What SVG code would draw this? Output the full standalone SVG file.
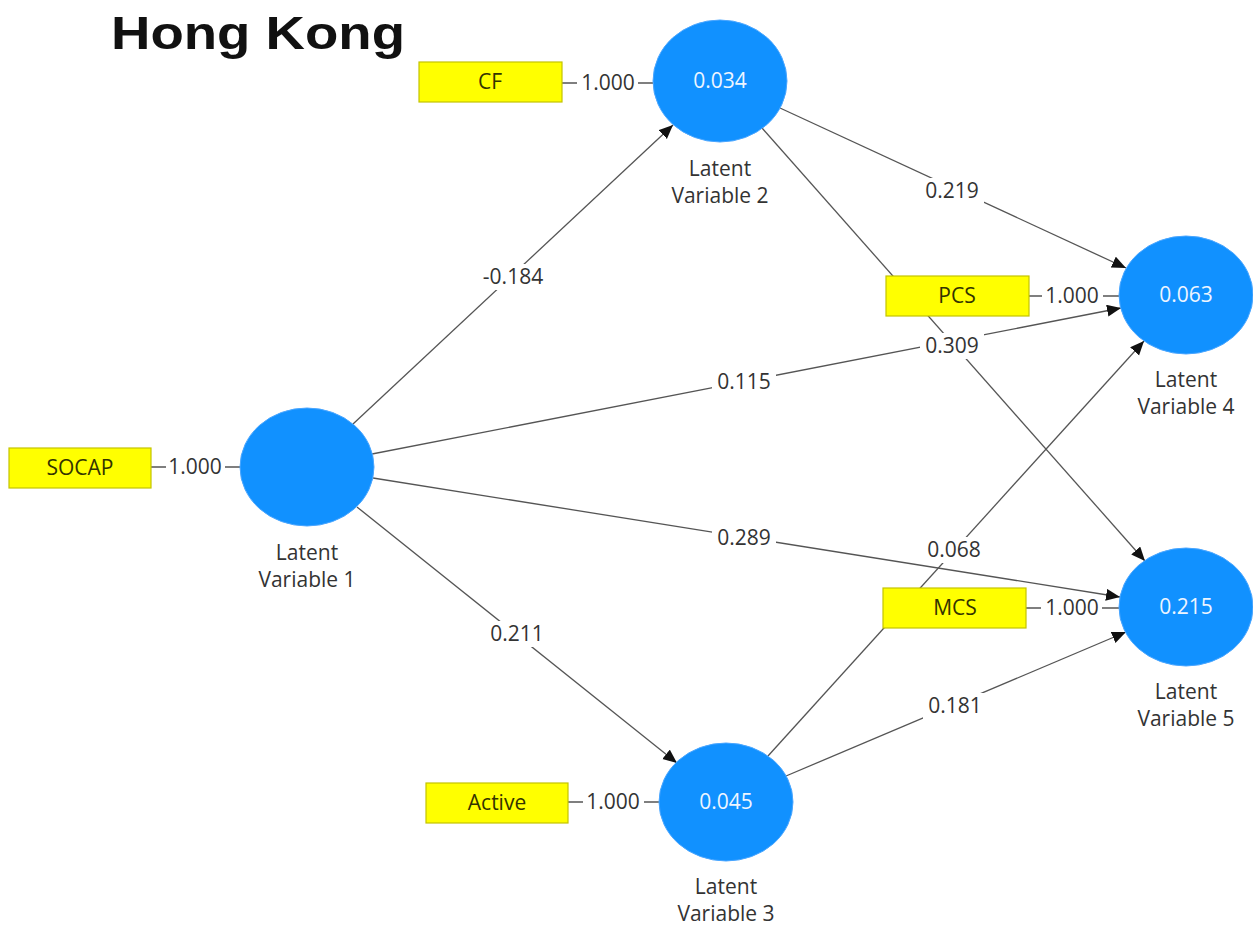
<svg xmlns="http://www.w3.org/2000/svg" width="1253" height="926" viewBox="0 0 1253 926">
<style>
.lv{fill:#1191ff;stroke:#4aa6ff;stroke-width:1}
.lvt{font-family:"Open Sans","Noto Sans",sans-serif;font-size:21px;fill:#eef5ff;text-anchor:middle}
.box{fill:#ffff00;stroke:#c4c400;stroke-width:1.2}
.bt{font-family:"Open Sans","Noto Sans",sans-serif;font-size:21px;fill:#333300;text-anchor:middle}
.cap{font-family:"Open Sans","Noto Sans",sans-serif;font-size:21px;fill:#333;text-anchor:middle}
.ed{stroke:#555;stroke-width:1.3;fill:none}
.lb{font-family:"Open Sans","Noto Sans",sans-serif;font-size:21px;fill:#333;text-anchor:middle}
.bg{fill:#fff}
</style>
<defs>
<marker id="arr" markerUnits="userSpaceOnUse" markerWidth="15" markerHeight="13" refX="14" refY="6" orient="auto">
<path d="M0,0 L14,6 L0,12 z" fill="#111"/>
</marker>
</defs>
<rect width="1253" height="926" fill="#fff"/>
<text x="111" y="49" font-family="Liberation Sans,Arial,sans-serif" font-weight="bold" font-size="47" fill="#111" textLength="294" lengthAdjust="spacingAndGlyphs">Hong Kong</text>

<g id="connectors">
<line class="ed" x1="151" y1="467" x2="240" y2="467"/>
<line class="ed" x1="562" y1="83" x2="653" y2="83"/>
<line class="ed" x1="1029" y1="296" x2="1119" y2="296"/>
<line class="ed" x1="1026" y1="608" x2="1119" y2="608"/>
<line class="ed" x1="568" y1="802" x2="659" y2="802"/>
<line class="ed" x1="353" y1="424" x2="673" y2="125" marker-end="url(#arr)"/>
<line class="ed" x1="372" y1="454" x2="1121" y2="308" marker-end="url(#arr)"/>
<line class="ed" x1="373" y1="478" x2="1120" y2="597" marker-end="url(#arr)"/>
<line class="ed" x1="357" y1="507" x2="677" y2="763" marker-end="url(#arr)"/>
<line class="ed" x1="780" y1="108" x2="1126" y2="268" marker-end="url(#arr)"/>
<line class="ed" x1="762" y1="128" x2="1145" y2="561" marker-end="url(#arr)"/>
<line class="ed" x1="768" y1="756" x2="1144" y2="341" marker-end="url(#arr)"/>
<line class="ed" x1="786" y1="776" x2="1126" y2="632" marker-end="url(#arr)"/>
<rect class="bg" x="166" y="455" width="59" height="24"/>
<text class="lb" x="195" y="474">1.000</text>
<rect class="bg" x="577" y="71" width="61" height="24"/>
<text class="lb" x="608" y="90">1.000</text>
<rect class="bg" x="1042" y="284" width="61" height="24"/>
<text class="lb" x="1072" y="303">1.000</text>
<rect class="bg" x="1041" y="596" width="61" height="24"/>
<text class="lb" x="1072" y="615">1.000</text>
<rect class="bg" x="583" y="790" width="61" height="24"/>
<text class="lb" x="613" y="809">1.000</text>
<rect class="bg" x="478" y="264" width="70" height="26"/>
<text class="lb" x="513" y="284">-0.184</text>
<rect class="bg" x="712" y="369" width="64" height="26"/>
<text class="lb" x="744" y="389">0.115</text>
<rect class="bg" x="712" y="525" width="64" height="26"/>
<text class="lb" x="744" y="545">0.289</text>
<rect class="bg" x="485" y="621" width="64" height="26"/>
<text class="lb" x="517" y="641">0.211</text>
<rect class="bg" x="920" y="178" width="64" height="26"/>
<text class="lb" x="952" y="198">0.219</text>
<rect class="bg" x="920" y="333" width="64" height="26"/>
<text class="lb" x="952" y="353">0.309</text>
<rect class="bg" x="922" y="537" width="64" height="26"/>
<text class="lb" x="954" y="557">0.068</text>
<rect class="bg" x="923" y="693" width="64" height="26"/>
<text class="lb" x="955" y="713">0.181</text>
</g>

<g id="lv1">
<ellipse class="lv" cx="307" cy="467" rx="67" ry="59"/>
<text class="cap" x="307" y="560">Latent</text>
<text class="cap" x="307" y="587">Variable 1</text>
</g>
<g id="lv2">
<ellipse class="lv" cx="720" cy="81" rx="67" ry="61"/>
<text class="lvt" x="720" y="88">0.034</text>
<text class="cap" x="720" y="176">Latent</text>
<text class="cap" x="720" y="203">Variable 2</text>
</g>
<g id="lv3">
<ellipse class="lv" cx="726" cy="802" rx="67" ry="59"/>
<text class="lvt" x="726" y="809">0.045</text>
<text class="cap" x="726" y="894">Latent</text>
<text class="cap" x="726" y="921">Variable 3</text>
</g>
<g id="lv4">
<ellipse class="lv" cx="1186" cy="295" rx="67" ry="59"/>
<text class="lvt" x="1186" y="302">0.063</text>
<text class="cap" x="1186" y="387">Latent</text>
<text class="cap" x="1186" y="414">Variable 4</text>
</g>
<g id="lv5">
<ellipse class="lv" cx="1186" cy="607" rx="67" ry="59"/>
<text class="lvt" x="1186" y="614">0.215</text>
<text class="cap" x="1186" y="699">Latent</text>
<text class="cap" x="1186" y="726">Variable 5</text>
</g>
<g id="socap">
<rect class="box" x="9" y="448" width="142" height="40"/>
<text class="bt" x="80" y="475">SOCAP</text>
</g>
<g id="cf">
<rect class="box" x="419" y="62" width="143" height="40"/>
<text class="bt" x="490" y="89">CF</text>
</g>
<g id="pcs">
<rect class="box" x="886" y="276" width="143" height="40"/>
<text class="bt" x="957" y="303">PCS</text>
</g>
<g id="mcs">
<rect class="box" x="883" y="588" width="143" height="40"/>
<text class="bt" x="955" y="615">MCS</text>
</g>
<g id="active">
<rect class="box" x="426" y="783" width="142" height="40"/>
<text class="bt" x="497" y="810">Active</text>
</g>
</svg>
